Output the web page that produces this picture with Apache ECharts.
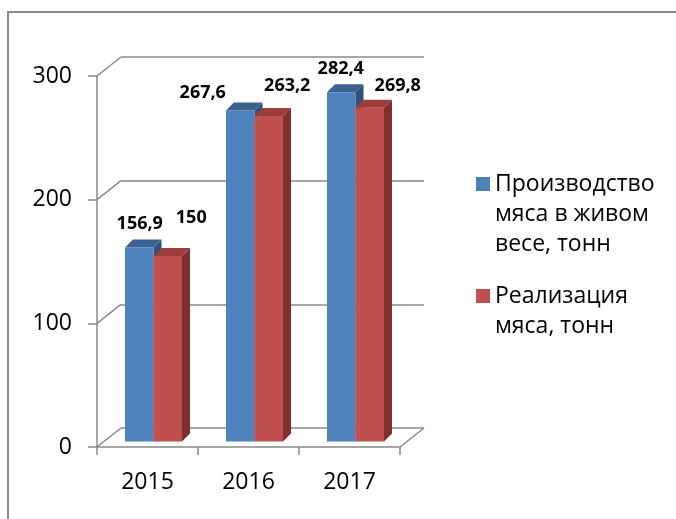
<!DOCTYPE html>
<html>
<head>
<meta charset="utf-8">
<style>
html, body { margin: 0; padding: 0; background: #fff; }
#chart { width: 676px; height: 519px; }
</style>
</head>
<body>
<div id="chart"></div>
<script src="https://cdn.jsdelivr.net/npm/echarts@6/dist/echarts.min.js"></script>
<script>
var years = ['2015', '2016', '2017'];
var production = [156.9, 267.6, 282.4];
var sales = [150, 263.2, 269.8];
var yTicks = [0, 100, 200, 300];
var seriesNames = ['Производство мяса в живом весе, тонн', 'Реализация мяса, тонн'];
var legendLines = {
  'Производство мяса в живом весе, тонн': ['Производство', 'мяса в живом', 'весе, тонн'],
  'Реализация мяса, тонн': ['Реализация', 'мяса, тонн']
};

var FONT = '"Open Sans", sans-serif';
var GRID_COLOR = '#888';
var DEPTH = [24, -19];      // front plane -> back wall
var BAR_SHIFT = [6, -5.5];  // bars stand a bit inside the box
var BAR_DEPTH = [8, -8];
var BAR_W = 28.5;

// labels were dragged by hand in the original, keep their offsets
var labelShift = [
  [[0.5, -24], [-37.5, -17.7], [-0.5, -23.3]],
  [[23.5, -38.5], [18.5, -30], [28, -22]]
];

var palette = [
  { front: '#4f81bd', top: '#3a6190', side: '#2f5078' },
  { front: '#c0504d', top: '#9b3d3a', side: '#7d302e' }
];

function fmt(v) {
  return String(v).replace('.', ',');
}

function barSeries(idx, values) {
  var c = palette[idx];
  return {
    name: seriesNames[idx],
    type: 'custom',
    xAxisIndex: 0,
    yAxisIndex: 0,
    itemStyle: { color: c.front },
    data: values.map(function (v, i) { return [i, v]; }),
    renderItem: function (params, api) {
      var i = api.value(0);
      var v = api.value(1);
      var top = api.coord([i, v]);
      var base = api.coord([i, 0]);
      var x0 = top[0] + BAR_SHIFT[0] - (idx === 0 ? BAR_W : 0);
      var yt = top[1] + BAR_SHIFT[1];
      var yb = base[1] + BAR_SHIFT[1];
      var dx = BAR_DEPTH[0], dy = BAR_DEPTH[1];
      var sh = labelShift[idx][i];
      return {
        type: 'group',
        children: [
          {
            type: 'polygon',
            shape: { points: [[x0 + BAR_W, yt], [x0 + BAR_W + dx, yt + dy], [x0 + BAR_W + dx, yb + dy], [x0 + BAR_W, yb]] },
            style: { fill: c.side }
          },
          {
            type: 'polygon',
            shape: { points: [[x0, yt], [x0 + BAR_W, yt], [x0 + BAR_W + dx, yt + dy], [x0 + dx, yt + dy]] },
            style: { fill: c.top }
          },
          {
            type: 'rect',
            shape: { x: x0, y: yt, width: BAR_W, height: yb - yt },
            style: { fill: c.front }
          },
          {
            type: 'text',
            z2: 100,
            x: x0 + BAR_W / 2 + sh[0],
            y: yt + sh[1],
            style: {
              text: fmt(v),
              fill: '#000',
              font: 'bold 18px ' + FONT,
              align: 'center',
              verticalAlign: 'middle'
            }
          }
        ]
      };
    }
  };
}

// side wall and floor edges
var wallSeries = {
  type: 'custom',
  xAxisIndex: 0,
  yAxisIndex: 0,
  silent: true,
  data: yTicks.map(function (t) { return [0, t]; }),
  renderItem: function (params, api) {
    var cs = params.coordSys;
    var y = api.coord([0, api.value(1)])[1];
    var lineStyle = { stroke: GRID_COLOR, lineWidth: 1.5 };
    var kids = [{
      type: 'line',
      shape: { x1: cs.x, y1: y, x2: cs.x + DEPTH[0], y2: y + DEPTH[1] },
      style: lineStyle
    }];
    if (api.value(1) === 0) {
      kids.push({
        type: 'line',
        shape: { x1: cs.x + cs.width, y1: y, x2: cs.x + cs.width + DEPTH[0], y2: y + DEPTH[1] },
        style: lineStyle
      });
    }
    return { type: 'group', children: kids };
  }
};

var chart = echarts.init(document.getElementById('chart'));

var option = {
  animation: false,
  backgroundColor: '#fff',
  textStyle: { fontFamily: FONT },
  graphic: [{
    type: 'rect',
    silent: true,
    z: -10,
    shape: { x: 8, y: 12, width: 760, height: 600 },
    style: { fill: 'none', stroke: '#8c8c8c', lineWidth: 2 }
  }],
  grid: [
    { left: 97, top: 76, width: 303, height: 371, outerBoundsMode: 'none' },
    { left: 121, top: 57, width: 303, height: 371, outerBoundsMode: 'none' }
  ],
  xAxis: [
    {
      gridIndex: 0,
      type: 'category',
      data: years,
      axisLine: { show: true, lineStyle: { color: GRID_COLOR, width: 1.5 } },
      axisTick: { show: true, length: 8, lineStyle: { color: GRID_COLOR, width: 1.5 } },
      axisLabel: { color: '#000', fontSize: 23, fontFamily: FONT, margin: 24 },
      splitLine: { show: false }
    },
    {
      gridIndex: 1,
      type: 'category',
      data: years,
      show: false
    }
  ],
  yAxis: [
    {
      gridIndex: 0,
      type: 'value',
      min: 0,
      max: 300,
      interval: 100,
      axisLine: { show: true, lineStyle: { color: GRID_COLOR, width: 1.5 } },
      axisTick: { show: true, length: 9, lineStyle: { color: GRID_COLOR, width: 1.5 } },
      axisLabel: { color: '#000', fontSize: 23, fontFamily: FONT, margin: 25 },
      splitLine: { show: false }
    },
    {
      gridIndex: 1,
      type: 'value',
      min: 0,
      max: 300,
      interval: 100,
      axisLine: { show: false },
      axisTick: { show: false },
      axisLabel: { show: false },
      splitLine: { show: true, lineStyle: { color: GRID_COLOR, width: 1.5 } }
    }
  ],
  legend: {
    orient: 'vertical',
    left: 476,
    top: 109,
    padding: 0,
    itemGap: -8,
    itemWidth: 14,
    itemHeight: 14,
    icon: 'rect',
    textStyle: {
      color: '#000',
      fontSize: 23,
      fontFamily: FONT,
      lineHeight: 30
    },
    data: seriesNames,
    // blank lines on top so the square sits next to the first line, as in Excel
    formatter: function (name) {
      var lines = legendLines[name];
      var pad = [];
      for (var k = 1; k < lines.length; k++) pad.push('');
      return pad.concat(lines).join('\n');
    }
  },
  series: [wallSeries, barSeries(0, production), barSeries(1, sales)]
};

chart.setOption(option);
</script>
</body>
</html>
